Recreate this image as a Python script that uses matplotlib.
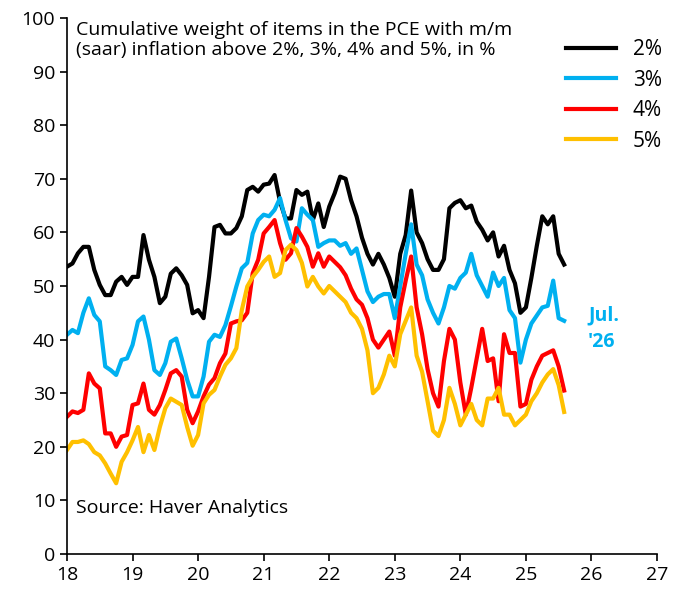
import matplotlib
matplotlib.use("Agg")
import matplotlib.pyplot as plt
import numpy as np

plt.rcParams['font.family'] = ['Open Sans', 'DejaVu Sans']

# monthly values from Jan 2018
pce_2 = [53.6, 54.2, 56.1, 57.3, 57.3, 53.0, 50.2, 48.3, 48.3, 50.8, 51.7, 50.2,
         51.7, 51.7, 59.5, 54.9, 51.7, 46.8, 48.0, 52.3, 53.3, 52.0, 50.2, 44.9,
         45.5, 44.0, 51.7, 61.0, 61.4, 59.8, 59.8, 60.8, 63.0, 67.9, 68.5, 67.6,
         68.9, 69.1, 70.7, 65.7, 62.6, 62.6, 67.9, 67.0, 67.6, 62.3, 65.4, 61.0,
         64.8, 67.3, 70.4, 70.0, 66.0, 63.0, 59.0, 56.0, 54.0, 56.0, 54.0, 51.5,
         48.0, 56.0, 59.5, 67.8, 60.0, 58.0, 55.0, 53.0, 53.0, 55.0, 64.5, 65.5,
         66.0, 64.5, 65.0, 62.0, 60.5, 58.5, 60.0, 55.5, 57.5, 53.0, 50.5, 45.0,
         46.0, 51.5, 57.5, 63.0, 61.5, 63.0, 56.0, 54.0]
pce_3 = [40.9, 41.8, 41.2, 45.0, 47.7, 44.6, 43.4, 35.0, 34.3, 33.4, 36.2, 36.5,
         39.0, 43.4, 44.3, 40.0, 34.3, 33.4, 35.6, 39.6, 40.2, 36.5, 32.5, 29.4,
         29.4, 33.1, 39.6, 40.9, 40.5, 42.7, 46.2, 49.9, 53.3, 54.3, 59.8, 62.3,
         63.3, 63.0, 64.2, 66.4, 62.3, 58.9, 58.3, 64.5, 63.3, 62.3, 57.3, 58.0,
         58.5, 58.5, 57.5, 58.0, 56.0, 57.0, 53.0, 49.0, 47.0, 48.0, 48.5, 48.5,
         44.0, 50.0, 56.0, 61.5, 54.0, 52.0, 47.5, 45.0, 43.0, 46.0, 50.0, 49.5,
         51.5, 52.5, 56.0, 52.0, 50.0, 48.0, 52.5, 50.0, 51.5, 45.5, 44.0, 35.7,
         40.0, 43.0, 44.5, 46.0, 46.3, 51.0, 44.0, 43.5]
pce_4 = [25.6, 26.6, 26.3, 26.9, 33.7, 31.8, 30.9, 22.5, 22.5, 20.0, 21.9, 22.2,
         27.8, 28.1, 31.8, 26.9, 26.0, 27.8, 30.6, 33.7, 34.3, 33.1, 26.9, 24.4,
         26.6, 29.4, 31.6, 32.8, 35.6, 37.4, 43.0, 43.4, 43.6, 45.0, 52.4, 54.9,
         59.8, 61.0, 62.3, 58.0, 54.9, 56.1, 60.8, 59.2, 57.3, 53.6, 56.1, 53.6,
         55.5, 54.5, 53.5, 52.0, 49.5, 47.5, 46.5, 44.0, 40.0, 38.5, 40.0, 41.5,
         37.0, 46.0, 51.0, 55.5, 46.0, 41.0, 34.5, 30.0, 27.5, 36.0, 42.0, 40.0,
         32.0, 26.0, 31.0, 36.5, 42.0, 36.0, 36.5, 28.5, 41.0, 37.5, 37.5, 27.5,
         28.0, 32.5, 35.0, 37.0, 37.5, 38.0, 35.0, 30.5]
pce_5 = [19.4, 20.9, 20.9, 21.2, 20.5, 19.0, 18.4, 16.9, 15.0, 13.2, 17.2, 19.0,
         21.2, 23.7, 19.0, 22.2, 19.4, 23.7, 27.2, 29.0, 28.4, 27.8, 23.7, 20.2,
         22.2, 28.1, 29.7, 30.6, 33.1, 35.3, 36.5, 38.4, 45.5, 49.9, 51.7, 53.0,
         54.5, 55.5, 51.7, 52.4, 56.7, 57.7, 56.7, 54.3, 49.9, 51.7, 49.9, 48.6,
         50.0, 49.0, 48.0, 47.0, 45.0, 44.0, 42.0, 38.0, 30.0, 31.0, 33.5, 37.0,
         35.0, 41.0, 43.5, 46.0, 37.0, 34.0, 28.5, 23.0, 22.0, 25.0, 31.0, 28.0,
         24.0, 26.0, 28.0, 25.0, 24.0, 29.0, 29.0, 31.0, 26.0, 26.0, 24.0, 25.0,
         26.0, 28.5, 30.0, 32.0, 33.5, 34.5, 31.5, 26.5]
labels = ['2%', '3%', '4%', '5%']
colors = ['black', '#00B0F0', '#FF0000', '#FFC000']

x = 18 + np.arange(len(pce_2)) / 12.0

fig = plt.figure(figsize=(6.8, 6.09), dpi=100)
ax = fig.add_axes([0.0985, 0.0903, 0.8677, 0.8802])
for s, lab, c in zip([pce_2, pce_3, pce_4, pce_5], labels, colors):
    ax.plot(x, s, color=c, lw=3, label=lab)

ax.set_xlim(18, 27)
ax.set_ylim(0, 100)
ax.set_xticks(range(18, 28))
ax.set_yticks(range(0, 101, 10))
ax.tick_params(labelsize=14, length=5, width=1.2, direction='out')
for sp in ['top', 'right']:
    ax.spines[sp].set_visible(False)
for sp in ['left', 'bottom']:
    ax.spines[sp].set_linewidth(1.2)

ax.text(0.015, 0.995, 'Cumulative weight of items in the PCE with m/m\n(saar) inflation above 2%, 3%, 4% and 5%, in %',
        transform=ax.transAxes, fontsize=14, va='top', ha='left', linespacing=1.2)
ax.text(0.015, 0.085, 'Source: Haver Analytics', transform=ax.transAxes, fontsize=14, va='center')
ax.text(25.95, 42, "Jul.\n'26", color='#00B0F0', fontsize=14, fontweight='bold',
        ha='left', va='center', linespacing=1.4)

leg = ax.legend(loc='upper right', bbox_to_anchor=(1.04, 0.995), fontsize=15, frameon=False,
                handlelength=2.4, labelspacing=0.45, handletextpad=0.8)
plt.savefig('out.png', dpi=100)
